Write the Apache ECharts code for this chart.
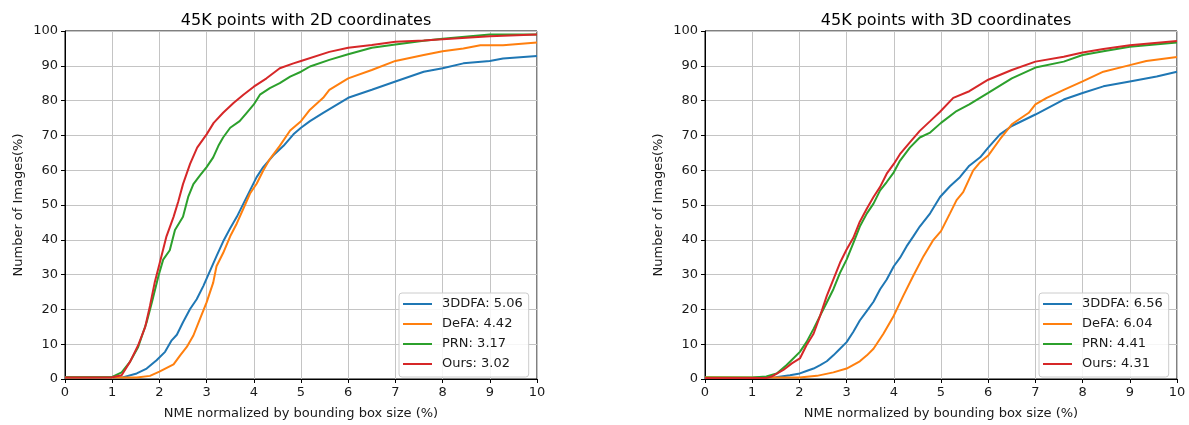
<!DOCTYPE html>
<html>
<head>
<meta charset="utf-8">
<script src="https://cdn.jsdelivr.net/npm/echarts@6/dist/echarts.min.js"></script>
<style>
html,body{margin:0;padding:0;background:#fff;}
#chart{width:1189px;height:425px;}
</style>
</head>
<body>
<div id="chart"></div>
<script>
// ---- Data ----
const titles = ['45K points with 2D coordinates', '45K points with 3D coordinates'];
const xTicks = [0,1,2,3,4,5,6,7,8,9,10];
const yTicks = [0,10,20,30,40,50,60,70,80,90,100];
const xName = 'NME normalized by bounding box size (%)';
const yName = 'Number of Images(%)';

const names2d = ['3DDFA: 5.06', 'DeFA: 4.42', 'PRN: 3.17', 'Ours: 3.02'];
const names3d = ['3DDFA: 6.56', 'DeFA: 6.04', 'PRN: 4.41', 'Ours: 4.31'];

const blue2d = [[0,0.4],[1.0,0.4],[1.2,0.4],[1.52,1.6],[1.73,3],[1.94,5.4],[2.12,7.8],[2.26,11.1],[2.37,12.7],[2.5,16.3],[2.65,20.1],[2.79,22.9],[2.93,26.7],[3.07,31],[3.21,35.3],[3.35,39.5],[3.5,43.3],[3.64,46.6],[3.78,50.4],[3.92,54.2],[4.06,58],[4.2,60.9],[4.41,64.2],[4.63,67],[4.84,70.3],[5.0,72.2],[5.19,74.1],[5.47,76.5],[6.0,80.8],[6.5,83.1],[7.0,85.5],[7.6,88.3],[8.0,89.3],[8.44,90.7],[9.0,91.4],[9.28,92.1],[10,92.8]];
const orange2d = [[0,0.4],[1.0,0.4],[1.52,0.4],[1.8,0.9],[2.0,2.1],[2.3,4.2],[2.44,6.8],[2.58,9.2],[2.72,12.5],[2.86,17.3],[3.0,22],[3.14,27.7],[3.21,32.4],[3.35,36.2],[3.5,41],[3.64,44.7],[3.78,49],[3.92,53.3],[4.06,56.1],[4.2,59.9],[4.34,63.2],[4.55,67],[4.77,71.4],[5.0,74.1],[5.19,77.4],[5.47,80.8],[5.6,83.1],[6.0,86.4],[6.5,88.8],[7.0,91.4],[7.6,93.1],[8.0,94.2],[8.44,95],[8.8,95.9],[9.28,95.9],[10,96.7]];
const green2d = [[0,0.5],[1.0,0.6],[1.2,1.9],[1.38,5],[1.55,9.2],[1.73,16.3],[1.84,22],[1.98,29.6],[2.08,34.3],[2.22,37],[2.33,42.8],[2.5,46.6],[2.61,52.3],[2.72,56],[2.86,58.5],[3.0,60.9],[3.14,63.7],[3.25,67],[3.35,69.4],[3.5,72.2],[3.7,74.1],[3.85,76.5],[4.0,78.9],[4.13,81.7],[4.34,83.6],[4.55,85],[4.77,86.9],[5.0,88.3],[5.19,89.8],[5.6,91.7],[6.0,93.3],[6.5,95.2],[7.0,96.1],[7.6,97.2],[8.0,97.8],[9.0,99],[10,99]];
const red2d = [[0,0.4],[0.5,0.4],[1.0,0.5],[1.2,1.1],[1.38,5],[1.55,9.7],[1.7,15],[1.8,21],[1.9,27.7],[2.0,33],[2.15,41],[2.3,46.6],[2.4,51],[2.5,56],[2.65,61.8],[2.8,66.5],[3.0,70.3],[3.15,73.6],[3.35,76.5],[3.57,79.3],[3.78,81.7],[4.0,84],[4.27,86.4],[4.55,89.3],[4.84,90.7],[5.0,91.4],[5.6,94],[6.0,95.2],[6.5,96],[7.0,96.9],[7.6,97.3],[8.0,97.6],[9.0,98.5],[10,99]];

const blue3d = [[0,0.3],[1.0,0.3],[1.5,0.5],[1.8,1.1],[2.01,1.6],[2.15,2.3],[2.3,3],[2.44,4],[2.58,5.1],[2.72,6.8],[2.86,8.7],[3.0,10.6],[3.14,13.5],[3.28,16.8],[3.43,19.6],[3.57,22.2],[3.71,25.8],[3.85,28.6],[4.0,32.4],[4.13,34.8],[4.27,38.1],[4.41,40.9],[4.55,43.8],[4.77,47.6],[4.98,52.3],[5.19,55.4],[5.4,58],[5.6,61.3],[5.83,63.7],[6.0,66.5],[6.25,70.3],[6.5,72.7],[7.0,76],[7.6,80.3],[8.0,82.2],[8.44,84.1],[9.0,85.5],[9.57,86.9],[10,88.3]];
const orange3d = [[0,0.5],[1.0,0.4],[2.0,0.4],[2.37,0.9],[2.72,1.9],[3.0,3],[3.28,5.1],[3.43,6.8],[3.57,8.7],[3.78,13],[4.0,18.2],[4.2,23.9],[4.41,29.6],[4.63,35.3],[4.84,40],[5.0,42.5],[5.19,47.6],[5.33,51.4],[5.47,53.7],[5.68,59.9],[5.83,62.3],[6.0,64.2],[6.25,68.9],[6.5,73.2],[6.86,76.5],[7.0,78.9],[7.24,80.8],[7.6,83.1],[8.0,85.5],[8.44,88.3],[9.0,90.2],[9.35,91.4],[10,92.5]];
const green3d = [[0,0.4],[1.0,0.4],[1.3,0.7],[1.52,1.6],[1.73,4],[1.87,5.9],[2.01,7.8],[2.15,10.6],[2.3,14.4],[2.44,18.2],[2.58,22],[2.72,25.8],[2.86,30.5],[3.0,34.3],[3.14,39],[3.28,43.8],[3.43,47.6],[3.57,50.4],[3.71,54.2],[3.85,56.6],[4.0,59.4],[4.13,62.7],[4.34,66.5],[4.55,69.4],[4.77,70.8],[5.0,73.6],[5.33,77],[5.6,78.9],[6.0,82.2],[6.5,86.4],[7.0,89.5],[7.6,91.2],[8.0,93.1],[8.44,94.2],[9.0,95.5],[10,96.7]];
const red3d = [[0,0.3],[1.0,0.3],[1.3,0.3],[1.41,0.7],[1.66,2.6],[1.84,4.5],[2.01,5.9],[2.15,9.7],[2.3,13],[2.44,18.2],[2.58,23.9],[2.72,28.6],[2.86,33.4],[3.0,37.2],[3.14,40.5],[3.28,45.2],[3.43,49],[3.57,52.3],[3.71,55.2],[3.85,59],[4.0,61.8],[4.13,64.6],[4.34,68],[4.55,71.3],[4.77,74.1],[4.98,76.8],[5.26,80.8],[5.6,82.7],[6.0,86],[6.5,88.8],[7.0,91.2],[7.6,92.6],[8.0,93.8],[8.44,94.8],[9.0,95.9],[10,97.1]];

const colors = ['#1f77b4', '#ff7f0e', '#2ca02c', '#d62728'];
const data2d = [blue2d, orange2d, green2d, red2d];
const data3d = [blue3d, orange3d, green3d, red3d];

// ---- Chart ----
const FONT = 'DejaVu Sans';
const gridLefts = [65, 705];
const gridW = 472, gridTop = 31, gridH = 351;

function xAxisCfg(i) {
  return {
    type: 'value', gridIndex: i, min: xTicks[0], max: xTicks[xTicks.length-1], interval: 1,
    name: xName, nameLocation: 'middle', nameGap: 28,
    nameTextStyle: {fontFamily: FONT, fontSize: 13, color: '#1a1a1a'},
    axisLine: {show: true, onZero: false, lineStyle: {color: '#000', width: 1}},
    axisTick: {show: true, inside: false, length: 4, lineStyle: {color: '#000'}},
    axisLabel: {fontFamily: FONT, fontSize: 13, color: '#1a1a1a', margin: 7},
    splitLine: {show: true, lineStyle: {color: '#c4c4c4', width: 1}}
  };
}
function yAxisCfg(i) {
  return {
    type: 'value', gridIndex: i, min: yTicks[0], max: yTicks[yTicks.length-1], interval: 10,
    name: yName, nameLocation: 'middle', nameGap: 40,
    nameTextStyle: {fontFamily: FONT, fontSize: 13, color: '#1a1a1a'},
    axisLine: {show: true, onZero: false, lineStyle: {color: '#000', width: 1}},
    axisTick: {show: true, inside: false, length: 4, lineStyle: {color: '#000'}},
    axisLabel: {fontFamily: FONT, fontSize: 13, color: '#1a1a1a', margin: 7},
    splitLine: {show: true, lineStyle: {color: '#c4c4c4', width: 1}}
  };
}

const series = [];
[[names2d, data2d], [names3d, data3d]].forEach(([names, datas], gi) => {
  names.forEach((n, k) => {
    series.push({
      name: n, type: 'line', xAxisIndex: gi, yAxisIndex: gi,
      data: datas[k], showSymbol: false, symbol: 'none', smooth: false,
      lineStyle: {color: colors[k], width: 2}, itemStyle: {color: colors[k]},
      z: 3 + k, animation: false
    });
  });
});

function legendCfg(names, left) {
  return {
    data: names, orient: 'vertical', left: left, top: 293,
    icon: 'rect', itemWidth: 29, itemHeight: 2, itemGap: 0,
    padding: [1, 6, 3, 4],
    backgroundColor: 'rgba(255,255,255,0.85)', borderColor: '#cccccc', borderWidth: 1, borderRadius: 3,
    textStyle: {fontFamily: FONT, fontSize: 13, color: '#1a1a1a', lineHeight: 20, padding: [0, 0, 0, 5]},
    selectedMode: false
  };
}

const option = {
  backgroundColor: '#fff',
  animation: false,
  title: titles.map((t, i) => ({
    text: t, left: gridLefts[i] + gridW / 2, top: 8, textAlign: 'center',
    textStyle: {fontFamily: FONT, fontSize: 16, fontWeight: 'normal', color: '#000'}
  })),
  grid: gridLefts.map(l => ({
    left: l, top: gridTop, width: gridW, height: gridH,
    show: true, borderColor: '#000', borderWidth: 1, backgroundColor: 'transparent'
  })),
  xAxis: [xAxisCfg(0), xAxisCfg(1)],
  yAxis: [yAxisCfg(0), yAxisCfg(1)],
  legend: [legendCfg(names2d, 399), legendCfg(names3d, 1039)],
  series: series
};

const chart = echarts.init(document.getElementById('chart'), null, {renderer: 'canvas'});
chart.setOption(option);
</script>
</body>
</html>
